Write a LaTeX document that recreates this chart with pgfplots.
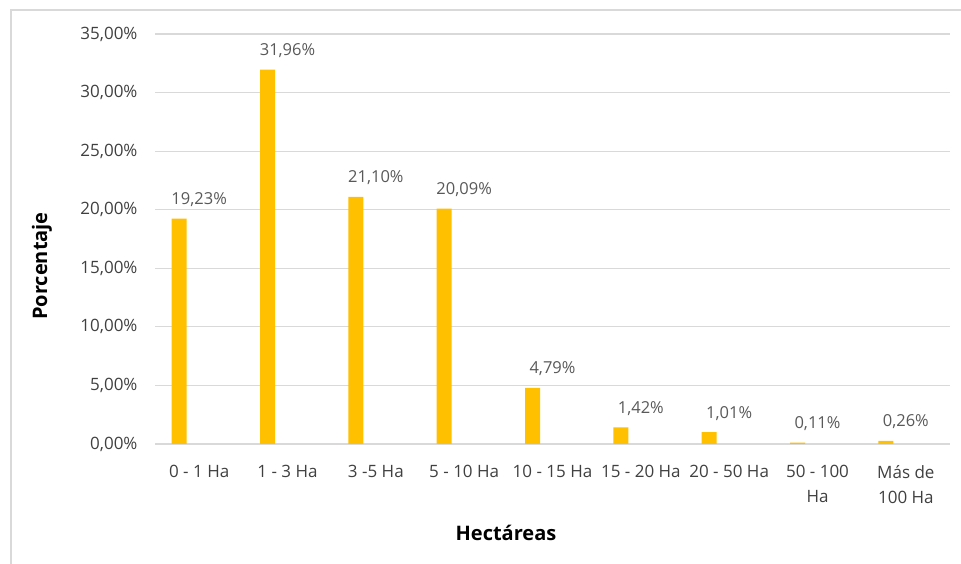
\documentclass[border=0pt]{standalone}
\usepackage{pgfplots}
\pgfplotsset{compat=1.18}
\usepackage{fontspec}
\setmainfont{Open Sans}
\definecolor{barc}{HTML}{FFC000}
\definecolor{gridc}{HTML}{D9D9D9}
\definecolor{txt}{HTML}{595959}
\definecolor{tick}{HTML}{404040}
\begin{document}
\begin{tikzpicture}[x=1pt,y=1pt]
\useasboundingbox (0,0) rectangle (961,564);
\draw[gridc, line width=1.5pt] (11,0) -- (11,554) -- (961,554);
\begin{axis}[
  at={(155pt,120pt)}, anchor=south west,
  scale only axis, width=795pt, height=410pt,
  xmin=-0.5, xmax=8.5, ymin=0, ymax=35,
  axis line style={draw=none},
  ytick={0,5,10,15,20,25,30,35},
  yticklabels={{0,00\%},{5,00\%},{10,00\%},{15,00\%},{20,00\%},{25,00\%},{30,00\%},{35,00\%}},
  ymajorgrids, grid style={gridc, line width=1.2pt},
  xtick={0,1,2,3,4,5,6,7,8},
  xticklabels={{0 - 1 Ha},{1 - 3 Ha},{3 -5 Ha},{5 - 10 Ha},{10 - 15 Ha},{15 - 20 Ha},{20 - 50 Ha},{50 - 100\\Ha},{Más de\\100 Ha}},
  major tick length=0pt,
  font=\fontsize{17}{25}\selectfont,
  ticklabel style={text=tick},
  xticklabel style={align=center, anchor=north, yshift=-18pt},
  yticklabel style={anchor=east, xshift=-14pt},
  xlabel={\textbf{Hectáreas}},
  xlabel style={at={(axis description cs:0.4415,0)}, anchor=center, yshift=-89pt, font=\fontsize{20}{24}\selectfont},
  ylabel={\textbf{Porcentaje}},
  ylabel style={at={(axis description cs:-0.1421,0.434)}, anchor=center, font=\fontsize{20}{24}\selectfont},
  clip=false,
]
\addplot[ybar, bar width=0.17, bar shift=-0.226, fill=barc, draw=none,
  point meta=explicit symbolic, nodes near coords,
  nodes near coords style={text=txt, anchor=base, yshift=14pt, font=\fontsize{16.5}{19}\selectfont}]
coordinates {
(0,19.23) [19,23\%]
(1,31.96) [31,96\%]
(2,21.10) [21,10\%]
(3,20.09) [20,09\%]
(4,4.79) [4,79\%]
(5,1.42) [1,42\%]
(6,1.01) [1,01\%]
(7,0.11) [0,11\%]
(8,0.26) [0,26\%]
};
\end{axis}
\end{tikzpicture}
\end{document}
